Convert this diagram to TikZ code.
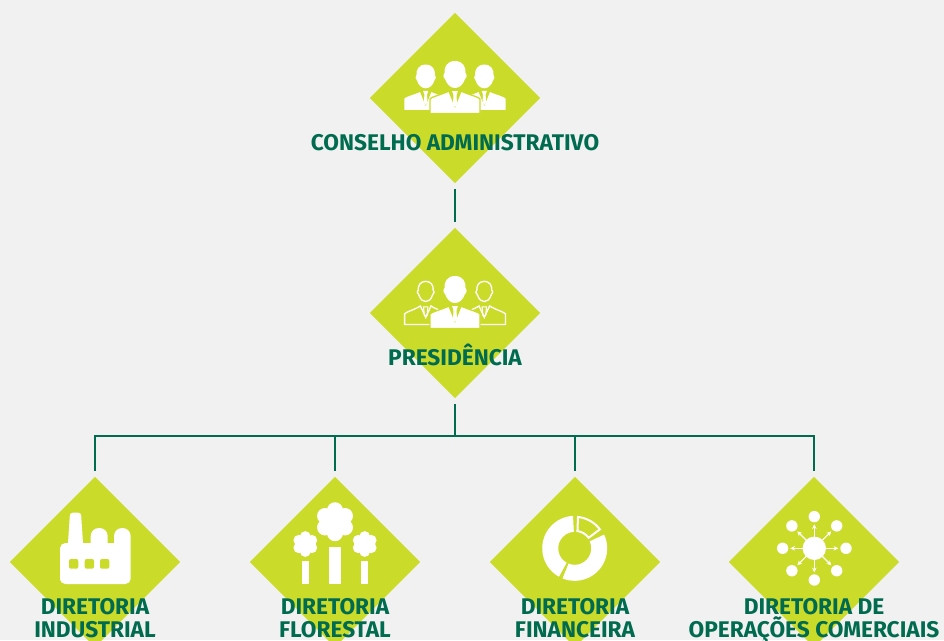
\documentclass[tikz,border=0pt]{standalone}
\usepackage{fontspec}
\setmainfont{Fira Sans}
\usetikzlibrary{shapes.geometric,arrows.meta}
\definecolor{pagegray}{HTML}{F1F1F1}
\definecolor{lime}{HTML}{CBDB2A}
\definecolor{deepgreen}{HTML}{006B4F}
\tikzset{
  rombo/.style={diamond, fill=lime, inner sep=0pt, minimum size=130.2pt, aspect=1, outer sep=3.2pt},
  rotulo/.style={text=deepgreen, font=\fontsize{17}{17}\selectfont\bfseries, align=center, inner sep=0pt},
  elo/.style={draw=deepgreen, line width=1.5pt},
  pics/cheio/.style={code={
    \fill[white] (0,-13) .. controls (-8,-13) and (-11,-7) .. (-10.5,-1) .. controls (-12,0) and (-12,4) .. (-10,5)
      .. controls (-8,11) and (-4,14) .. (0,14) .. controls (4,14) and (8,11) .. (10,5)
      .. controls (12,4) and (12,0) .. (10.5,-1) .. controls (11,-7) and (8,-13) .. (0,-13) -- cycle;
    \fill[white, draw=lime, line width=1pt] (-25,39.5) -- (-25,25) .. controls (-24,23) and (-12,20) .. (-6,17) -- (0,32) -- (6,17)
      .. controls (12,20) and (24,23) .. (25,25) -- (25,39.5) -- cycle;
    \fill[white] (-3,17) -- (3,17) -- (1.5,21) -- (2,30) -- (0,33) -- (-2,30) -- (-1.5,21) -- cycle;
  }},
  pics/vazado/.style={code={
    \draw[white, line width=1pt] (0,-11) .. controls (-6,-11) and (-9,-6) .. (-8.5,-1) .. controls (-10,0) and (-10,3) .. (-8,4)
      .. controls (-6,10) and (-3,12) .. (0,12) .. controls (3,12) and (6,10) .. (8,4)
      .. controls (10,3) and (10,0) .. (8.5,-1) .. controls (9,-6) and (6,-11) .. (0,-11) -- cycle;
    \draw[white, line width=1pt] (-24,38) -- (-24,26) .. controls (-23,24) and (-12,21) .. (-6,17) -- (0,30) -- (6,17)
      .. controls (12,21) and (23,24) .. (24,26) -- (24,38) -- cycle;
    \draw[white, line width=0.8pt] (-2.5,18) -- (2.5,18) -- (1.5,28) -- (-1.5,28) -- cycle;
  }}
}
\begin{document}
\begin{tikzpicture}[x=0.75pt, y=-0.75pt]
  \useasboundingbox (0,0) rectangle (944,640);
  \clip (0,0) rectangle (944,640);
  \fill[pagegray] (0,0) rectangle (944,640);

  \node[rombo] (conselho) at (455,98) {};
  \node[rombo] (presidencia) at (455,313) {};
  \node[rombo] (industrial) at (95,562) {};
  \node[rombo] (florestal) at (335,562) {};
  \node[rombo] (financeira) at (575,562) {};
  \node[rombo] (comercial) at (814,562) {};

  \coordinate (barra) at (455,436);

  \draw[elo] (conselho.south) -- (presidencia.north);
  \draw[elo] (presidencia.south) -- (barra);
  \draw[elo] (barra) -| (industrial.north);
  \draw[elo] (barra) -| (florestal.north);
  \draw[elo] (barra) -| (financeira.north);
  \draw[elo] (barra) -| (comercial.north);

  % pessoas
  \pic at (425.7,76) [scale=0.88] {cheio};
  \pic at (484.3,76) [scale=0.88] {cheio};
  \pic at (455,74) {cheio};
  \pic at (425.7,291) [scale=0.88] {vazado};
  \pic at (484.3,291) [scale=0.88] {vazado};
  \pic at (455,289) {cheio};

  % fabrica
  \fill[white] (60,584) [rounded corners=4pt] -- (60,543) [sharp corners] -- (68,543) [rounded corners=2pt] -- (70,512.7) -- (81,512.7) [sharp corners] -- (83,543) -- (90.7,543)
    [rounded corners=6pt] -- (90.7,528) -- (107.7,528) [sharp corners] -- (107.7,543) -- (114,543) [rounded corners=6pt] -- (114,528) -- (130.7,528) [rounded corners=4pt] -- (130.7,584) -- (60,584) -- cycle;
  \foreach \wx in {69,84.7,100} {
    \fill[lime, rounded corners=1.5pt] (\wx,559) rectangle ++(9.3,9.7);
  }

  % arvores
  \foreach \a in {30,90,...,330} {
    \fill[white] (335,521.7) ++(\a:11.5) circle (8);
    \fill[white] (305.3,544) ++(\a:7.5) circle (5.4);
    \fill[white] (364.7,544) ++(\a:7.5) circle (5.4);
  }
  \fill[white] (335,521.7) circle (11);
  \fill[white] (305.3,544) circle (7);
  \fill[white] (364.7,544) circle (7);
  \fill[white] (329.3,547) rectangle (340.7,584);
  \fill[white] (302,560.7) rectangle (309,584);
  \fill[white] (361,560.7) rectangle (368.3,584);

  % rosca
  \fill[white] (574.7,548.3) ++(-93:32.5) arc (-93:-241:32.5) -- ++(-61:16) arc (-241:-93:16.5) -- cycle;
  \fill[white] (574.7,548.3) ++(112:32.5) arc (112:-25:32.5) -- ++(-205:16) arc (-25:112:16.5) -- cycle;
  \draw[white, line width=1.5pt, line join=miter] (574.7,548.3) ++(-84:31.5) arc (-84:-37:31.5) -- ++(-217:14) arc (-37:-81:17.5) -- cycle;

  % rede
  \fill[white] (814.3,548.3) circle (11.7);
  \foreach \a in {0,45,...,315} {
    \fill[white] (814.3,548.3) ++(\a:31.7) circle (5.7);
    \draw[white, line width=0.8pt, -{Stealth[length=3.5pt,width=3.5pt]}] (814.3,548.3) ++(\a:11) -- ++(\a:13);
  }

  \node[rotulo, anchor=base] (tconselho) at (455,150) {CONSELHO ADMINISTRATIVO};
  \node[rotulo, anchor=base] (tpresidencia) at (455,365) {PRESIDÊNCIA};
  \node[rotulo, anchor=north] (tindustrial) at (95,598) {DIRETORIA\\INDUSTRIAL};
  \node[rotulo, anchor=north] (tflorestal) at (335,598) {DIRETORIA\\FLORESTAL};
  \node[rotulo, anchor=north] (tfinanceira) at (575,598) {DIRETORIA\\FINANCEIRA};
  \node[rotulo, anchor=north] (tcomercial) at (814,598) {DIRETORIA DE\\OPERAÇÕES COMERCIAIS};
\end{tikzpicture}
\end{document}
